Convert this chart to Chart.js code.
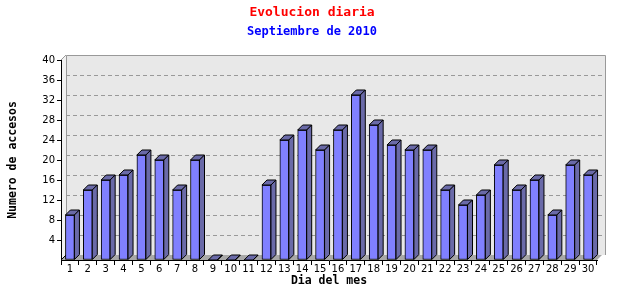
<!DOCTYPE html>
<html>
<head>
<meta charset="utf-8">
<script src="https://cdn.jsdelivr.net/npm/chart.js@4.4.1/dist/chart.umd.min.js"></script>
<style>
  html, body { margin: 0; padding: 0; background: #fff; }
</style>
</head>
<body>
<canvas id="chart" width="640" height="300"></canvas>
<script>
// data
const days = ['1','2','3','4','5','6','7','8','9','10','11','12','13','14','15',
              '16','17','18','19','20','21','22','23','24','25','26','27','28','29','30'];
const visits = [9, 14, 16, 17, 21, 20, 14, 20, 0, 0, 0, 15, 24, 26, 22,
                26, 33, 27, 23, 22, 22, 14, 11, 13, 19, 14, 16, 9, 19, 17];
const yMax = 40;
const yStep = 4;

const titleText = 'Evolucion diaria';
const subtitleText = 'Septiembre de 2010';
const xTitle = 'Dia del mes';
const yTitle = 'Numero de accesos';

const DEPTH = 5;          // 3d offset of the bars / back wall
const FRONT = '#8080ff';
const SIDE = '#6a6aa8';
const MONO = "'DejaVu Sans Mono', 'Liberation Mono', monospace";
const SANS = "'DejaVu Sans', sans-serif";

// back wall, dashed grid and floor, then the top/side faces of each bar
const bars3d = {
    id: 'bars3d',
    beforeDraw: function (chart) {
        const ctx = chart.ctx;
        const a = chart.chartArea;
        const y = chart.scales.y;
        const top = Math.round(y.getPixelForValue(yMax)) - DEPTH;
        const back = a.bottom - DEPTH;
        const right = a.right + 8;

        ctx.save();
        ctx.fillStyle = '#fff';
        ctx.fillRect(0, 0, chart.width, chart.height);

        ctx.fillStyle = '#e8e8e8';
        ctx.fillRect(a.left + DEPTH, top, right - a.left - DEPTH, back - top);

        // left wall
        ctx.fillStyle = '#f2f2f2';
        ctx.beginPath();
        ctx.moveTo(a.left, a.top);
        ctx.lineTo(a.left + DEPTH, top);
        ctx.lineTo(a.left + DEPTH, back);
        ctx.lineTo(a.left, a.bottom);
        ctx.closePath();
        ctx.fill();

        // dashed grid on the back wall
        ctx.strokeStyle = '#999';
        ctx.lineWidth = 1;
        ctx.setLineDash([4, 3]);
        for (let v = yStep; v < yMax; v += yStep) {
            const py = Math.round(y.getPixelForValue(v)) - DEPTH + 0.5;
            ctx.beginPath();
            ctx.moveTo(a.left + DEPTH, py);
            ctx.lineTo(right, py);
            ctx.stroke();
        }
        ctx.setLineDash([]);

        // frame
        ctx.beginPath();
        ctx.moveTo(a.left + DEPTH + 0.5, back);
        ctx.lineTo(a.left + DEPTH + 0.5, top + 0.5);
        ctx.lineTo(right + 0.5, top + 0.5);
        ctx.lineTo(right + 0.5, back);
        ctx.moveTo(a.left, a.top);
        ctx.lineTo(a.left + DEPTH, top);
        ctx.stroke();

        // floor
        ctx.fillStyle = '#a8a8a8';
        ctx.beginPath();
        ctx.moveTo(a.left, a.bottom);
        ctx.lineTo(a.right, a.bottom);
        ctx.lineTo(a.right + DEPTH, back);
        ctx.lineTo(a.left + DEPTH, back);
        ctx.closePath();
        ctx.fill();
        ctx.strokeStyle = '#000';
        ctx.beginPath();
        ctx.moveTo(a.left, a.bottom);
        ctx.lineTo(a.left + DEPTH, back);
        ctx.stroke();
        ctx.restore();
    },
    afterDatasetsDraw: function (chart) {
        const ctx = chart.ctx;
        const meta = chart.getDatasetMeta(0);
        ctx.save();
        ctx.fillStyle = SIDE;
        ctx.strokeStyle = '#000';
        ctx.lineWidth = 1;
        meta.data.forEach(function (bar) {
            const p = bar.getProps(['x', 'y', 'base', 'width'], true);
            const l = p.x - p.width / 2;
            const r = p.x + p.width / 2;
            // top
            ctx.beginPath();
            ctx.moveTo(l, p.y);
            ctx.lineTo(l + DEPTH, p.y - DEPTH);
            ctx.lineTo(r + DEPTH, p.y - DEPTH);
            ctx.lineTo(r, p.y);
            ctx.closePath();
            ctx.fill();
            ctx.stroke();
            // side
            ctx.beginPath();
            ctx.moveTo(r, p.y);
            ctx.lineTo(r + DEPTH, p.y - DEPTH);
            ctx.lineTo(r + DEPTH, p.base - DEPTH);
            ctx.lineTo(r, p.base);
            ctx.closePath();
            ctx.fill();
            ctx.stroke();
        });
        ctx.restore();
    }
};

new Chart(document.getElementById('chart'), {
    type: 'bar',
    data: {
        labels: days,
        datasets: [{
            data: visits,
            backgroundColor: FRONT,
            borderColor: '#000',
            borderWidth: 1,
            borderSkipped: false,
            barThickness: 9
        }]
    },
    plugins: [bars3d],
    options: {
        responsive: false,
        animation: false,
        layout: { padding: { left: 0, right: 16, top: 0, bottom: 0 } },
        plugins: {
            legend: { display: false },
            tooltip: { enabled: false },
            title: {
                display: true,
                text: titleText,
                color: '#ff0000',
                font: { family: MONO, size: 13, weight: 'bold', lineHeight: 1.2 },
                padding: { top: 5, bottom: 0 }
            },
            subtitle: {
                display: true,
                text: subtitleText,
                color: '#0000ff',
                font: { family: MONO, size: 12, weight: 'bold', lineHeight: 1.2 },
                padding: { top: 4, bottom: 21 }
            }
        },
        scales: {
            x: {
                afterFit: function (scale) { scale.height = 40; },
                grid: {
                    display: true,
                    offset: true,
                    drawOnChartArea: false,
                    tickLength: 5,
                    color: '#000'
                },
                border: { display: true, color: '#000' },
                ticks: {
                    color: '#000',
                    autoSkip: false,
                    maxRotation: 0,
                    padding: -2,
                    font: { family: SANS, size: 10 }
                },
                title: {
                    display: true,
                    text: xTitle,
                    color: '#000',
                    align: 'center',
                    font: { family: MONO, size: 11.5, weight: 'bold', lineHeight: 1.2 },
                    padding: { top: 0, bottom: 11.6 }
                }
            },
            y: {
                min: 0,
                max: yMax,
                afterFit: function (scale) { scale.width = 61; },
                grid: {
                    display: true,
                    drawOnChartArea: false,
                    tickLength: 4,
                    color: function (c) { return c.tick && c.tick.value === 0 ? 'rgba(0,0,0,0)' : '#000'; }
                },
                border: { display: true, color: '#000' },
                ticks: {
                    stepSize: yStep,
                    color: '#000',
                    padding: 2,
                    font: { family: SANS, size: 10 },
                    callback: function (v) { return v === 0 ? '' : v; }
                },
                title: {
                    display: true,
                    text: yTitle,
                    color: '#000',
                    font: { family: MONO, size: 11.5, weight: 'bold', lineHeight: 1.2 },
                    padding: { top: 6, bottom: 0 }
                }
            },
            // empty right-hand margin so the titles centre on the whole image
            yRight: {
                position: 'right',
                display: true,
                afterFit: function (scale) { scale.width = 27; },
                grid: { display: false, drawTicks: false },
                border: { display: false },
                ticks: { display: false }
            }
        }
    }
});
</script>
</body>
</html>
